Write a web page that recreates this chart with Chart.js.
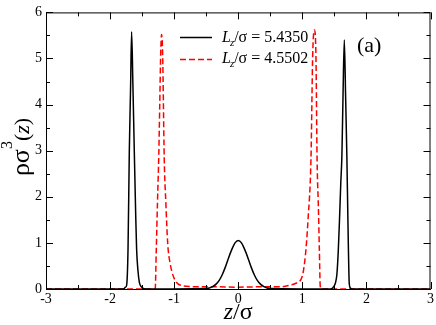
<!DOCTYPE html>
<html>
<head>
<meta charset="utf-8">
<script src="https://cdn.jsdelivr.net/npm/chart.js@4.4.1/dist/chart.umd.min.js"></script>
<style>
    html, body { margin: 0; padding: 0; background: #ffffff; }
    #densityChart { display: block; }
</style>
</head>
<body>
<canvas id="densityChart" width="436" height="325"></canvas>
<script>
//------------Data-----------------

// Lz/sigma = 5.4350 (black, solid)
const blackZ   = [-3, -1.8, -1.78, -1.76, -1.742, -1.72, -1.70, -1.68, -1.664, -1.645, -1.622, -1.60, -1.586, -1.565, -1.544, -1.52, -1.49, -1.45,
                  -0.5, -0.45, -0.4, -0.35, -0.3, -0.25, -0.2, -0.15, -0.1, -0.05, 0, 0.05, 0.1, 0.15, 0.2, 0.25, 0.3, 0.35, 0.4, 0.45, 0.5,
                  1.44, 1.49, 1.52, 1.54, 1.56, 1.58, 1.60, 1.617, 1.635, 1.655, 1.675, 1.695, 1.71, 1.72, 1.732, 1.75, 1.77, 3];
const blackRho = [0, 0, 0.01, 0.04, 0.08, 0.86, 2.98, 4.38, 5.58, 4.5, 2.98, 1.6, 0.86, 0.4, 0.15, 0.06, 0.02, 0,
                  0.01, 0.02, 0.05, 0.1, 0.18, 0.31, 0.48, 0.68, 0.86, 1.0, 1.05, 1.0, 0.86, 0.68, 0.48, 0.31, 0.18, 0.1, 0.05, 0.02, 0.01,
                  0, 0.05, 0.15, 0.33, 0.8, 1.5, 2.3, 2.87, 4.2, 5.4, 4.2, 2.87, 1.6, 0.8, 0.12, 0.02, 0, 0];

// Lz/sigma = 4.5502 (red, dashed)
const redZ   = [-3, -1.32, -1.295, -1.28, -1.26, -1.24, -1.225, -1.21, -1.197, -1.18, -1.155, -1.13, -1.10, -1.062, -1.0, -0.9, -0.8, -0.69, -0.4, 0,
                0.4, 0.53, 0.68, 0.8, 0.89, 0.995, 1.05, 1.09, 1.135, 1.162, 1.19, 1.213, 1.23, 1.25, 1.265, 1.28, 1.3, 3];
const redRho = [0, 0, 0.02, 0.8, 1.9, 2.9, 4.0, 5.1, 5.52, 5.1, 2.83, 1.88, 0.97, 0.55, 0.23, 0.08, 0.06, 0.05, 0.05, 0.04,
                0.05, 0.05, 0.05, 0.08, 0.12, 0.26, 0.76, 1.53, 2.83, 5.1, 5.62, 5.0, 2.83, 1.8, 0.9, 0.05, 0, 0];

const seriesLabels = ['5.4350', '4.5502'];
const xTicks = [-3, -2, -1, 0, 1, 2, 3];
const yTicks = [0, 1, 2, 3, 4, 5, 6];
const minorStep = 0.5;

//------------Chart Area-----------------

const serif = '"Liberation Serif", "Times New Roman", serif';

function toPoints(xs, ys) {
    return xs.map((x, i) => ({ x: x, y: ys[i] }));
}

// inward major + minor ticks on all four sides, box, titles, legend
const framePlugin = {
    id: 'frame',
    afterDraw(chart) {
        const ctx = chart.ctx;
        const area = chart.chartArea;
        const xs = chart.scales.x;
        const ys = chart.scales.y;

        ctx.save();
        ctx.strokeStyle = '#000000';
        ctx.lineWidth = 1;
        ctx.strokeRect(area.left + 0.5, area.top + 0.5, area.right - area.left - 1, area.bottom - area.top);

        ctx.beginPath();
        for (let v = xs.min; v <= xs.max + 1e-9; v += minorStep) {
            const px = Math.round(xs.getPixelForValue(v)) + 0.5;
            const len = Math.abs(v - Math.round(v)) < 1e-9 ? 7 : 4;
            ctx.moveTo(px, area.bottom);
            ctx.lineTo(px, area.bottom - len);
            ctx.moveTo(px, area.top);
            ctx.lineTo(px, area.top + len);
        }
        for (let v = ys.min; v <= ys.max + 1e-9; v += minorStep) {
            const py = Math.round(ys.getPixelForValue(v)) + 0.5;
            const len = Math.abs(v - Math.round(v)) < 1e-9 ? 7 : 4;
            ctx.moveTo(area.left, py);
            ctx.lineTo(area.left + len, py);
            ctx.moveTo(area.right, py);
            ctx.lineTo(area.right - len, py);
        }
        ctx.stroke();

        ctx.fillStyle = '#000000';
        ctx.textBaseline = 'alphabetic';
        ctx.textAlign = 'left';

        // x title: z/σ
        const xParts = [
            { t: 'z', f: 'italic 24px ' + serif },
            { t: '/σ', f: '24px ' + serif }
        ];
        let w = 0;
        xParts.forEach(p => { ctx.font = p.f; w += ctx.measureText(p.t).width; });
        let cx = (area.left + area.right) / 2 - w / 2;
        xParts.forEach(p => { ctx.font = p.f; ctx.fillText(p.t, cx, 319); cx += ctx.measureText(p.t).width; });

        // y title: ρσ³(z)
        const yParts = [
            { t: 'ρσ', f: '26px ' + serif, dy: 0 },
            { t: '3', f: '16px ' + serif, dy: -17 },
            { t: '(', f: '22px ' + serif, dy: 0 },
            { t: 'z', f: 'italic 22px ' + serif, dy: 0 },
            { t: ')', f: '22px ' + serif, dy: 0 }
        ];
        ctx.save();
        ctx.translate(29, 147);
        ctx.rotate(-Math.PI / 2);
        w = 0;
        yParts.forEach(p => { ctx.font = p.f; w += ctx.measureText(p.t).width; });
        cx = -w / 2;
        yParts.forEach(p => { ctx.font = p.f; ctx.fillText(p.t, cx, p.dy); cx += ctx.measureText(p.t).width; });
        ctx.restore();

        // legend
        const rows = [
            { y: 37, color: '#000000', dash: [], val: seriesLabels[0], base: 42 },
            { y: 59, color: '#ff0000', dash: [6, 3], val: seriesLabels[1], base: 63 }
        ];
        rows.forEach(r => {
            ctx.save();
            ctx.strokeStyle = r.color;
            ctx.lineWidth = 1.5;
            ctx.setLineDash(r.dash);
            ctx.beginPath();
            ctx.moveTo(180, r.y + 0.5);
            ctx.lineTo(212, r.y + 0.5);
            ctx.stroke();
            ctx.restore();

            let tx = 222;
            ctx.font = 'italic 16px ' + serif;
            ctx.fillText('L', tx, r.base);
            tx += ctx.measureText('L').width;
            ctx.font = 'italic 11px ' + serif;
            ctx.fillText('z', tx - 1, r.base + 4);
            tx += ctx.measureText('z').width - 1;
            ctx.font = '16px ' + serif;
            ctx.fillText('/σ = ' + r.val, tx, r.base);
        });

        ctx.font = '22px ' + serif;
        ctx.fillText('(a)', 357, 52);
        ctx.restore();
    }
};

const ctx = document.getElementById('densityChart').getContext('2d');

new Chart(ctx, {
    type: 'line',
    data: {
        datasets: [
            {
                label: seriesLabels[0],
                data: toPoints(blackZ, blackRho),
                borderColor: '#000000',
                borderWidth: 1.5,
                pointRadius: 0,
                fill: false,
                cubicInterpolationMode: 'monotone'
            },
            {
                label: seriesLabels[1],
                data: toPoints(redZ, redRho),
                borderColor: '#ff0000',
                borderWidth: 1.5,
                borderDash: [6, 3],
                pointRadius: 0,
                fill: false,
                cubicInterpolationMode: 'monotone'
            }
        ]
    },
    options: {
        responsive: false,
        animation: false,
        devicePixelRatio: 1,
        layout: {
            padding: { top: 5, right: 4, left: 0, bottom: 0 }
        },
        plugins: {
            legend: { display: false },
            tooltip: { enabled: false }
        },
        scales: {
            x: {
                type: 'linear',
                min: -3,
                max: 3,
                afterBuildTicks: scale => { scale.ticks = xTicks.map(v => ({ value: v })); },
                afterFit: scale => { scale.height = 36; },
                grid: { display: false, drawTicks: false },
                border: { display: true, color: '#000000', width: 1 },
                ticks: {
                    color: '#000000',
                    padding: 2,
                    maxRotation: 0,
                    autoSkip: false,
                    font: { family: serif, size: 14 }
                }
            },
            y: {
                type: 'linear',
                min: 0,
                max: 6,
                afterBuildTicks: scale => { scale.ticks = yTicks.map(v => ({ value: v })); },
                afterFit: scale => { scale.width = 46; },
                grid: { display: false, drawTicks: false },
                border: { display: true, color: '#000000', width: 1 },
                ticks: {
                    color: '#000000',
                    padding: 4,
                    autoSkip: false,
                    font: { family: serif, size: 14 }
                }
            }
        }
    },
    plugins: [framePlugin]
});
</script>
</body>
</html>
